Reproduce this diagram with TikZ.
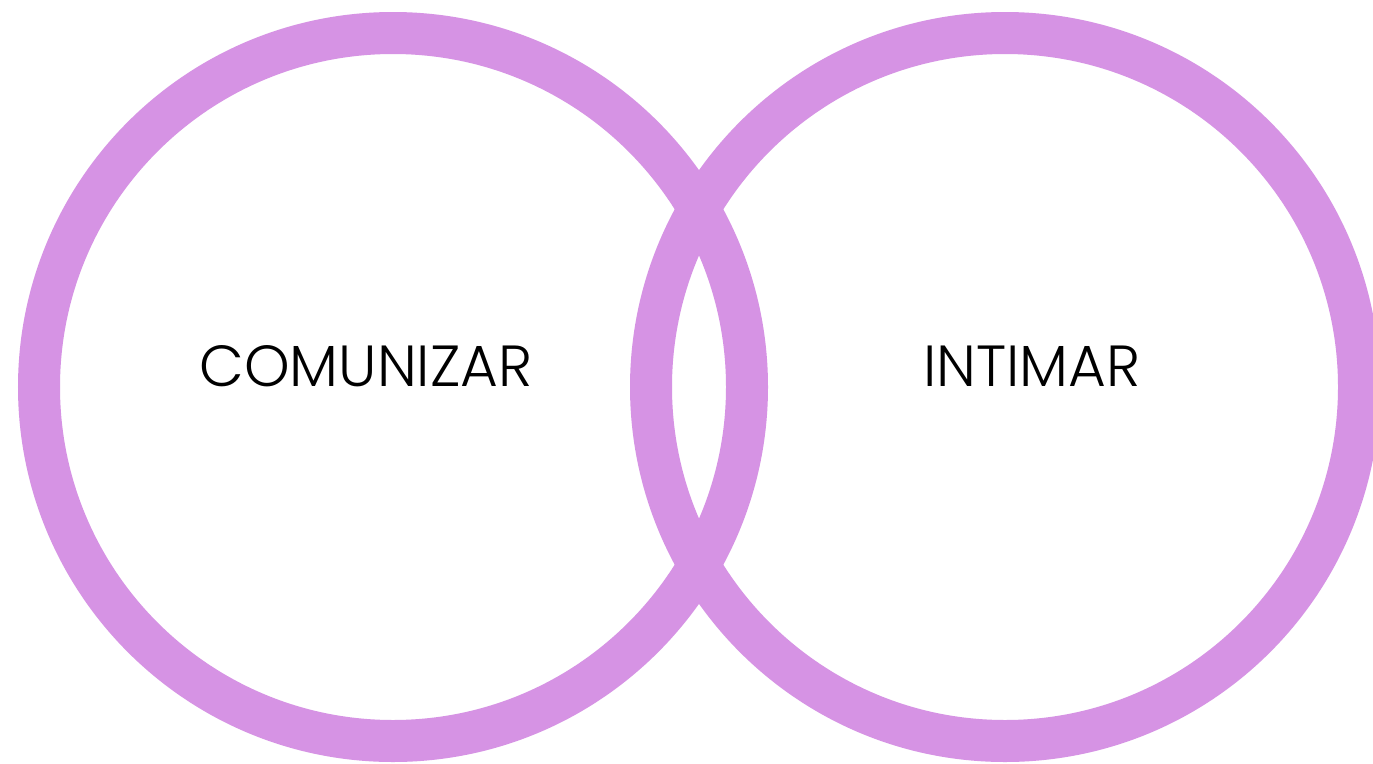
\documentclass[tikz,border=0pt]{standalone}
\usepackage{fontspec}
\setmainfont{Poppins}[UprightFont=* Light]
\definecolor{ring}{HTML}{D693E4}
\begin{document}
\begin{tikzpicture}[x=1pt,y=-1pt,
  ringstyle/.style={draw=ring,line width=42pt},
  label/.style={font=\fontsize{58}{60}\selectfont,text=black,inner sep=0pt,anchor=center}]
\useasboundingbox (0,0) rectangle (1373,763);
\fill[white] (0,0) rectangle (1373,763);
\draw[ringstyle] (393,387) circle[radius=354pt];
\draw[ringstyle] (1005,387) circle[radius=354pt];
\node[label] (comunizar) at (366,366) {COMUNIZAR};
\node[label] (intimar) at (1032,366) {INTIMAR};
\end{tikzpicture}
\end{document}
